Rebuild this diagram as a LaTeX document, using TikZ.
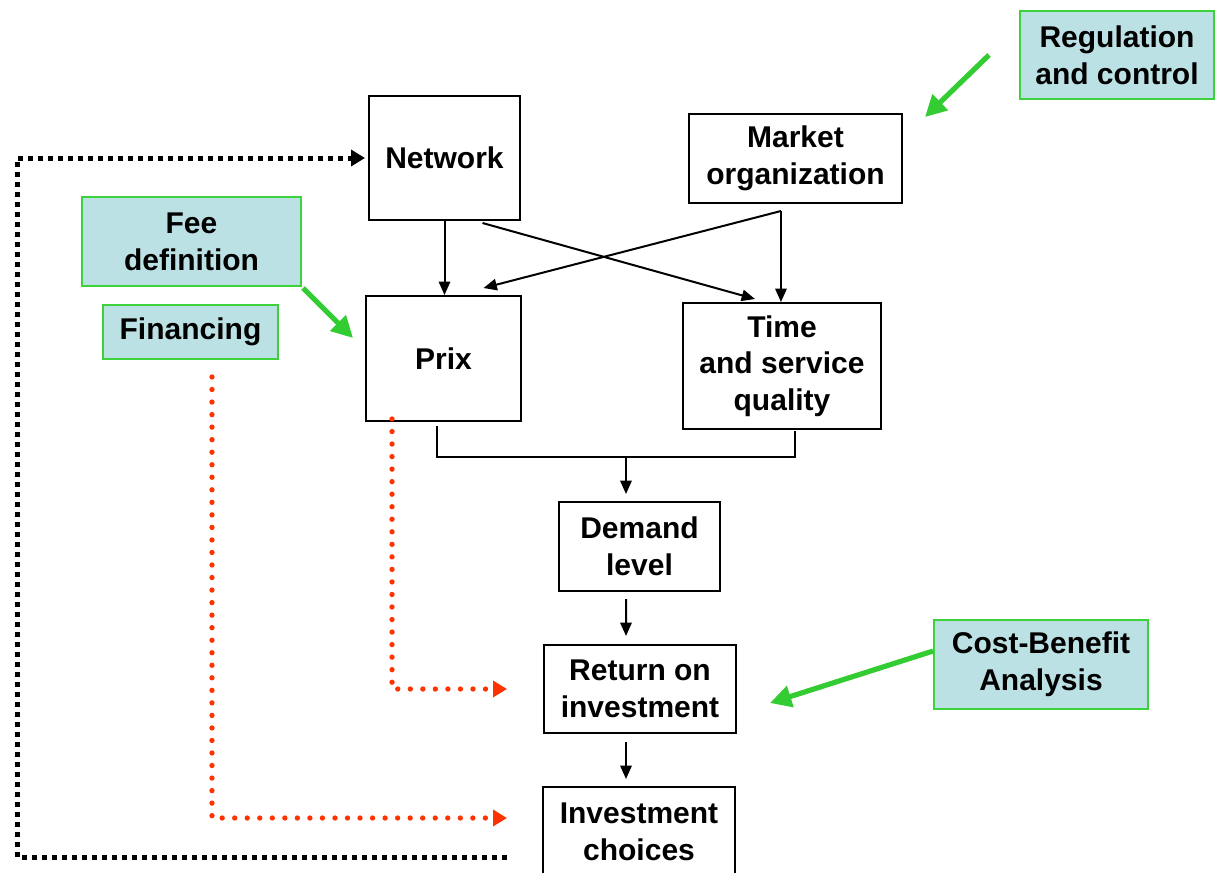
\documentclass[tikz,border=0pt]{standalone}
\usepackage{fontspec}
\setmainfont{Liberation Sans}
\usetikzlibrary{arrows.meta,calc}
\definecolor{gfill}{HTML}{BCE1E4}
\definecolor{gline}{HTML}{3BD23B}
\definecolor{garrow}{HTML}{33CC33}
\definecolor{rdot}{HTML}{FF3300}
\begin{document}
\begin{tikzpicture}[x=0.75pt,y=-0.75pt,
  box/.style={draw=black,line width=1.5pt,fill=white,inner sep=0pt,align=center,
    font=\fontsize{22.5}{27.5}\selectfont\bfseries},
  gbox/.style={box,draw=gline,fill=gfill},
  conn/.style={line width=1.5pt,-{Triangle[length=10pt,width=8.5pt]}},
  plain/.style={line width=1.5pt},
  garr/.style={draw=garrow,line width=3.9pt,-{Triangle[length=16pt,width=16pt]}},
  reddot/.style={draw=rdot,line width=4pt,line cap=round,dash pattern=on 0pt off 9.4pt,
    -{Triangle[length=10.5pt,width=12pt]}},
  blkdot/.style={draw=black,line width=3.75pt,dash pattern=on 3.75pt off 3.75pt,
    -{Triangle[length=10.5pt,width=12pt]}}
]
\useasboundingbox (0,0) rectangle (1215,872);

\node[box,minimum width=113.25pt,minimum height=93pt] (net) at (444.5,158) {Network};
\node[box,minimum width=159.75pt,minimum height=66.75pt] (mkt) at (795.5,158.5) {Market\\organization};
\node[gbox,minimum width=145.5pt,minimum height=66pt] (reg) at (1117,55) {Regulation\\and control};
\node[gbox,minimum width=164.25pt,minimum height=66.75pt] (fee) at (191.5,241.5) {Fee\\definition};
\node[gbox,minimum width=131.25pt,minimum height=40.5pt] (fin) at (190.5,332) {Financing};
\node[box,minimum width=116.25pt,minimum height=93.75pt] (prix) at (443.5,358.5) {Prix};
\node[box,minimum width=148.5pt,minimum height=94.5pt] (time) at (782,366) {Time\\and service\\quality};
\node[box,minimum width=120.75pt,minimum height=66.75pt] (dem) at (639.5,546.5) {Demand\\level};
\node[box,minimum width=144pt,minimum height=66pt] (ret) at (640,689) {Return on\\investment};
\node[box,minimum width=144pt,minimum height=67.5pt] (inv) at (639,832) {Investment\\choices};
\node[gbox,minimum width=160.5pt,minimum height=66.75pt] (cba) at (1041,664.5) {Cost-Benefit\\Analysis};

% black connectors
\draw[conn] (net.south) -- (net.south |- prix.north);
\draw[conn] ([xshift=28.5pt,yshift=-1.5pt]net.south) -- ([xshift=-20.25pt,yshift=2.25pt]time.north);
\coordinate (mkj) at ([xshift=-10.9pt,yshift=-5.25pt]mkt.south);
\draw[conn] (mkj) -- (mkj |- time.north);
\draw[conn] (mkj) -- ([xshift=30pt,yshift=5.25pt]prix.north);
\coordinate (jn) at (626,456);
\draw[plain] ([xshift=-4.9pt,yshift=-3pt]prix.south) |- ([xshift=9.75pt,yshift=-20.25pt]time.south) -- ([xshift=9.75pt,yshift=-0.75pt]time.south);
\draw[conn] (jn) -- ([yshift=5.25pt]jn |- dem.north);
\draw[conn] ([xshift=-10.1pt,yshift=-5.25pt]dem.south) -- ([xshift=-10.5pt,yshift=6pt]ret.north);
\draw[conn] ([xshift=-10.5pt,yshift=-6pt]ret.south) -- ([xshift=-9.75pt,yshift=5.25pt]inv.north);

% green arrows
\coordinate (regend) at (925,117);
\draw[garr] ([xshift=-22.5pt]reg.west) -- (regend);
\coordinate (feeend) at (353,338);
\draw[garr] ([xshift=0.75pt,yshift=-0.75pt]fee.south east) -- (feeend);
\coordinate (cbaend) at (770,703);
\draw[garr] ([yshift=10.1pt]cba.west) -- (cbaend);

% red dotted
\draw[reddot] ([xshift=-38.6pt,yshift=2.25pt]prix.south) |- ([xshift=-27pt]ret.west);
\draw[reddot] ([xshift=16.1pt,yshift=-12.75pt]fin.south) |- ([xshift=-26.25pt,yshift=10.5pt]inv.west);

% black dotted feedback
\coordinate (lc) at (17,857);
\draw[blkdot] ([xshift=-26.25pt,yshift=-18.75pt]inv.west) -- (lc) |- ([xshift=-2.25pt]net.west);
\end{tikzpicture}
\end{document}
